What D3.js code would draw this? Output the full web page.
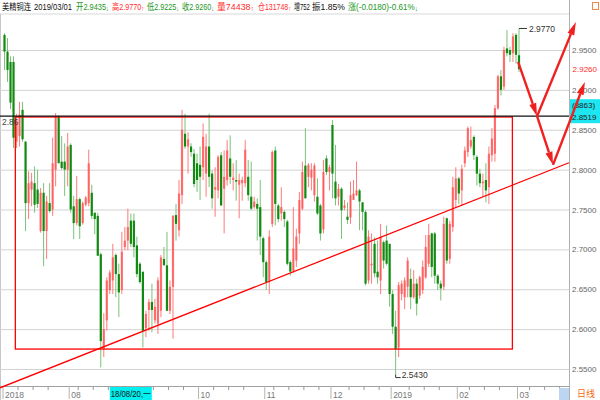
<!DOCTYPE html>
<html>
<head>
<meta charset="utf-8">
<script src="https://cdn.jsdelivr.net/npm/d3@7"></script>
<style>
body { margin: 0; background: #fff; }
svg { display: block; font-family: "Liberation Sans", Arial, "Noto Sans CJK SC", sans-serif; }
</style>
</head>
<body>
<svg id="chart" width="600" height="400"></svg>
<script>
// daily candles, 2018/07 .. 2019/03/01
const open = [
  2.969,2.948,2.935,2.935,2.835,2.842,2.875,2.835,2.758,2.775,
  2.783,2.775,2.723,2.771,2.723,2.758,2.750,2.800,2.867,2.810,
  2.810,2.800,2.831,2.754,2.733,2.763,2.733,2.756,2.758,2.771,
  2.746,2.742,2.694,2.575,2.611,2.649,2.661,2.693,2.669,2.649,
  2.703,2.711,2.736,2.736,2.705,2.682,2.672,2.601,2.624,2.634,
  2.611,2.607,2.623,2.688,2.680,2.623,2.653,2.743,2.724,2.768,
  2.845,2.829,2.829,2.820,2.808,2.806,2.803,2.795,2.829,2.795,
  2.775,2.774,2.818,2.776,2.787,2.814,2.787,2.787,2.781,2.783,
  2.783,2.791,2.766,2.753,2.757,2.753,2.714,2.684,2.659,2.732,
  2.824,2.755,2.745,2.747,2.735,2.684,2.673,2.686,2.720,2.751,
  2.805,2.791,2.790,2.768,2.766,2.755,2.725,2.814,2.797,2.856,
  2.785,2.766,2.776,2.752,2.741,2.740,2.762,2.768,2.774,2.759,
  2.747,2.661,2.680,2.707,2.672,2.661,2.709,2.711,2.707,2.644,
  2.603,2.577,2.644,2.640,2.653,2.663,2.640,2.657,2.642,2.649,
  2.665,2.682,2.720,2.720,2.667,2.657,2.653,2.739,2.688,2.728,
  2.762,2.789,2.774,2.808,2.822,2.829,2.841,2.816,2.795,2.783,
  2.787,2.778,2.818,2.820,2.877,2.917,2.904,2.952,2.950,2.946,
  2.969,2.9435
];
const high = [
  2.971,2.965,2.942,2.942,2.870,2.885,2.885,2.836,2.798,2.796,
  2.804,2.800,2.777,2.783,2.767,2.783,2.840,2.871,2.868,2.842,
  2.833,2.846,2.833,2.767,2.792,2.765,2.760,2.767,2.825,2.781,
  2.746,2.746,2.696,2.620,2.665,2.674,2.707,2.695,2.682,2.722,
  2.728,2.751,2.745,2.745,2.716,2.684,2.672,2.623,2.638,2.657,
  2.638,2.665,2.693,2.703,2.722,2.661,2.743,2.757,2.787,2.875,
  2.870,2.847,2.833,2.826,2.820,2.829,2.858,2.845,2.870,2.799,
  2.803,2.818,2.822,2.824,2.837,2.843,2.808,2.812,2.795,2.791,
  2.837,2.812,2.810,2.766,2.764,2.787,2.716,2.686,2.724,2.824,
  2.829,2.757,2.778,2.749,2.737,2.686,2.753,2.726,2.772,2.810,
  2.852,2.808,2.808,2.808,2.789,2.757,2.812,2.818,2.806,2.862,
  2.831,2.782,2.778,2.762,2.759,2.785,2.787,2.810,2.776,2.759,
  2.749,2.724,2.720,2.715,2.711,2.732,2.711,2.730,2.707,2.649,
  2.623,2.659,2.661,2.665,2.690,2.676,2.674,2.663,2.667,2.686,
  2.718,2.732,2.721,2.722,2.669,2.661,2.741,2.740,2.736,2.791,
  2.803,2.791,2.806,2.829,2.854,2.854,2.843,2.818,2.801,2.795,
  2.808,2.829,2.852,2.881,2.919,2.925,2.954,2.975,2.954,2.971,
  2.971,2.977
];
const low = [
  2.925,2.910,2.876,2.827,2.827,2.829,2.835,2.723,2.738,2.754,
  2.746,2.752,2.721,2.679,2.688,2.746,2.742,2.779,2.808,2.800,
  2.767,2.779,2.746,2.713,2.730,2.713,2.731,2.754,2.754,2.738,
  2.719,2.692,2.552,2.565,2.598,2.644,2.644,2.640,2.615,2.644,
  2.699,2.699,2.703,2.690,2.665,2.657,2.577,2.590,2.598,2.596,
  2.607,2.594,2.615,2.680,2.623,2.619,2.588,2.711,2.716,2.757,
  2.826,2.795,2.816,2.778,2.772,2.762,2.787,2.766,2.778,2.751,
  2.741,2.764,2.755,2.720,2.780,2.782,2.774,2.761,2.739,2.761,
  2.778,2.761,2.749,2.751,2.711,2.693,2.665,2.649,2.644,2.728,
  2.730,2.734,2.736,2.728,2.680,2.667,2.671,2.678,2.707,2.749,
  2.764,2.778,2.774,2.760,2.743,2.711,2.720,2.793,2.774,2.764,
  2.755,2.755,2.713,2.749,2.732,2.732,2.762,2.767,2.724,2.724,
  2.655,2.657,2.657,2.665,2.657,2.644,2.676,2.680,2.628,2.594,
  2.543,2.565,2.636,2.625,2.640,2.625,2.638,2.617,2.638,2.644,
  2.663,2.678,2.665,2.657,2.649,2.636,2.649,2.682,2.682,2.722,
  2.753,2.757,2.755,2.803,2.816,2.826,2.812,2.780,2.778,2.766,
  2.759,2.757,2.810,2.810,2.875,2.893,2.900,2.942,2.935,2.935,
  2.933,2.9225
];
const close = [
  2.948,2.925,2.884,2.840,2.860,2.869,2.838,2.758,2.783,2.785,
  2.756,2.757,2.771,2.723,2.760,2.748,2.808,2.867,2.808,2.802,
  2.800,2.829,2.750,2.733,2.763,2.729,2.758,2.765,2.808,2.742,
  2.738,2.692,2.585,2.600,2.661,2.671,2.690,2.669,2.646,2.697,
  2.711,2.728,2.707,2.703,2.669,2.659,2.598,2.619,2.634,2.624,
  2.628,2.661,2.690,2.680,2.623,2.653,2.742,2.732,2.770,2.850,
  2.829,2.838,2.822,2.782,2.787,2.791,2.841,2.829,2.791,2.764,
  2.778,2.816,2.755,2.791,2.824,2.791,2.790,2.785,2.787,2.787,
  2.825,2.768,2.751,2.760,2.751,2.716,2.684,2.659,2.716,2.822,
  2.757,2.738,2.753,2.738,2.682,2.672,2.701,2.716,2.762,2.797,
  2.764,2.806,2.800,2.805,2.745,2.720,2.797,2.797,2.803,2.795,
  2.764,2.776,2.749,2.755,2.737,2.768,2.770,2.774,2.760,2.747,
  2.657,2.716,2.682,2.670,2.665,2.716,2.686,2.682,2.644,2.603,
  2.575,2.655,2.657,2.661,2.686,2.640,2.657,2.632,2.665,2.678,
  2.703,2.718,2.678,2.667,2.657,2.651,2.732,2.686,2.732,2.778,
  2.789,2.770,2.801,2.824,2.852,2.837,2.818,2.795,2.783,2.785,
  2.774,2.820,2.839,2.877,2.917,2.900,2.950,2.946,2.944,2.967,
  2.944,2.926
];

// price axis ticks
const priceTicks = [2.55, 2.60, 2.65, 2.70, 2.75, 2.80, 2.85, 2.90, 2.95];

// month marks on the time axis (candle index where the month starts)
const monthIdx = [1, 23, 45, 66, 88, 110, 130, 152, 172];
const monthLabels = ["2018", "08", "09", "10", "11", "12", "2019", "02", "03"];

// quote line at the top
const quoteName = "美精铜连";
const quoteDate = "2019/03/01";
const quoteVolume = 74438, quoteOpenInt = 131748, quoteOiChange = 752;
const quoteAmplitude = "1.85%", quoteChange = "(-0.0180)-0.61%";

// hand drawn studies: [candle index, price]
const hLinePrice = 2.867;
const boxCorners = [[4.6, 2.866], [169.8, 2.575]];
const trendLine = [[-0.5, 2.5264], [188.6, 2.8086]];
const arrowPts = [[171.7, 2.935], [178.0, 2.867], [190.9, 2.985], [183.3, 2.806], [193.9, 2.910]];
const arrowPaths = [[0, 1], [1, 2], [1, 3], [3, 4]];

const cursorIdx = 36, cursorLabel = "18/08/20,一";
const cursorBoxText = ["(8863)", "2.8519"];

const W = 600, H = 400;
const plotRight = 569, plotTop = 14, plotBottom = 386;
const RED = "#ff2b2b", GREEN = "#1c961c";

const svg = d3.select("#chart");

const x = d3.scaleLinear().domain([1, 172]).range([4.5, 519]);
const y = d3.scaleLinear().domain([2.55, 2.95]).range([369, 50]);
const fmt = d3.format(".4f");

const candles = open.map((o, i) => ({ i: i + 1, o: o, h: high[i], l: low[i], c: close[i] }));

// frame
svg.append("line").attr("x1", 0).attr("x2", plotRight).attr("y1", plotTop).attr("y2", plotTop)
  .attr("stroke", "#d8d8d8");
svg.append("line").attr("x1", 0.5).attr("x2", 0.5).attr("y1", plotTop).attr("y2", H)
  .attr("stroke", "#c8c8c8");
svg.append("line").attr("x1", plotRight + 0.5).attr("x2", plotRight + 0.5).attr("y1", 0).attr("y2", H)
  .attr("stroke", "#b0b0b0");

// price axis + grid
const yAxis = svg.append("g")
  .attr("transform", `translate(${plotRight},0)`)
  .call(d3.axisRight(y).tickValues(priceTicks).tickSize(-plotRight).tickPadding(3).tickFormat(fmt));
yAxis.select(".domain").remove();
yAxis.selectAll(".tick line").attr("stroke", "#d2d2d2");
yAxis.selectAll(".tick text").attr("fill", "#666").attr("font-size", 8)
  .attr("font-family", "Liberation Sans, Arial, sans-serif");

// time axis
svg.append("line").attr("x1", 0).attr("x2", plotRight).attr("y1", plotBottom + 0.5).attr("y2", plotBottom + 0.5)
  .attr("stroke", "#a0a0a0");
const minorIdx = d3.range(1, 190, 5).filter(i => monthIdx.every(m => Math.abs(m - i) > 2));
svg.append("g").selectAll("line").data(minorIdx).join("line")
  .attr("x1", d => x(d) - 1.5).attr("x2", d => x(d) - 1.5)
  .attr("y1", plotBottom).attr("y2", plotBottom + 4).attr("stroke", "#999");
const cursorX0 = x(cursorIdx), cursorX1 = cursorX0 + 42;
const xAxis = svg.append("g").attr("transform", `translate(0,${plotBottom})`)
  .call(d3.axisBottom(x).tickValues(monthIdx).tickSize(13).tickPadding(0)
    .tickFormat((d, k) => (x(d) > cursorX0 - 4 && x(d) < cursorX1) ? "" : monthLabels[k]));
xAxis.select(".domain").remove();
xAxis.selectAll(".tick").attr("transform", d => `translate(${x(d) - 1.5},0)`);
xAxis.selectAll(".tick line").attr("stroke", "#b4b4b4");
xAxis.selectAll(".tick text").attr("fill", "#777").attr("font-size", 8.5)
  .attr("text-anchor", "start").attr("x", 2).attr("y", 6).attr("dy", "0.71em");

// cursor date box
svg.append("rect").attr("x", cursorX0).attr("y", plotBottom + 1).attr("width", 42).attr("height", 13)
  .attr("fill", "#00f0f0");
svg.append("text").attr("x", cursorX0 + 1).attr("y", plotBottom + 11).attr("font-size", 8.5)
  .attr("textLength", 40).attr("lengthAdjust", "spacingAndGlyphs")
  .attr("fill", "#111").text(cursorLabel);

// bottom right corner
svg.append("rect").attr("x", 559).attr("y", plotBottom + 2).attr("width", 10).attr("height", 12)
  .attr("fill", "#bcd6f2");
svg.append("text").attr("x", 577).attr("y", plotBottom + 11).attr("font-size", 9)
  .attr("fill", "#f26a10").text("日线");

// candles
const cg = svg.append("g");
cg.selectAll("line").data(candles).join("line")
  .attr("x1", d => x(d.i)).attr("x2", d => x(d.i))
  .attr("y1", d => y(d.h)).attr("y2", d => y(d.l))
  .attr("stroke", d => d.c >= d.o ? "#ff7a7a" : "#79c279").attr("stroke-width", 1);
cg.selectAll("rect").data(candles).join("rect")
  .attr("x", d => x(d.i) - 1.1).attr("width", 2.2)
  .attr("y", d => y(Math.max(d.o, d.c)))
  .attr("height", d => Math.max(1, Math.abs(y(d.o) - y(d.c))))
  .attr("fill", d => d.c >= d.o ? "#ff5050" : "#108a10")
  .attr("fill-opacity", d => d.c >= d.o ? 0.75 : 1);

// high / low markers
const hiC = candles.reduce((a, b) => b.h > a.h ? b : a);
const loC = candles.reduce((a, b) => b.l < a.l ? b : a);
svg.append("path").attr("d", `M${x(hiC.i)},${y(hiC.h)}H${x(hiC.i) + 8}`)
  .attr("stroke", "#333").attr("fill", "none");
svg.append("text").attr("x", x(hiC.i) + 10).attr("y", y(hiC.h) + 3.5).attr("font-size", 8.5)
  .attr("fill", "#333").text(fmt(hiC.h));
svg.append("path").attr("d", `M${x(loC.i)},${y(loC.l)}V${y(loC.l) + 3}H${x(loC.i) + 5}`)
  .attr("stroke", "#333").attr("fill", "none");
svg.append("text").attr("x", x(loC.i) + 6).attr("y", y(loC.l) + 3).attr("font-size", 8.5)
  .attr("fill", "#333").text(fmt(loC.l));

// last close on the price axis
const last = candles[candles.length - 1];
svg.append("text").attr("x", 597).attr("y", y(last.c) + 3).attr("font-size", 8)
  .attr("text-anchor", "end").attr("fill", RED).text(fmt(last.c));

// studies
svg.append("rect")
  .attr("x", x(boxCorners[0][0])).attr("y", y(boxCorners[0][1]))
  .attr("width", x(boxCorners[1][0]) - x(boxCorners[0][0]))
  .attr("height", y(boxCorners[1][1]) - y(boxCorners[0][1]))
  .attr("fill", "none").attr("stroke", "#f00").attr("stroke-width", 1.3);
svg.append("line").attr("x1", 0).attr("x2", plotRight)
  .attr("y1", y(hLinePrice)).attr("y2", y(hLinePrice))
  .attr("stroke", "#111").attr("stroke-width", 1.3);
svg.append("text").attr("x", 2).attr("y", y(hLinePrice) + 9).attr("font-size", 8.5)
  .attr("fill", "#444").text(d3.format(".2f")(Math.floor(hLinePrice * 100) / 100));
svg.append("line")
  .attr("x1", x(trendLine[0][0])).attr("y1", y(trendLine[0][1]))
  .attr("x2", x(trendLine[1][0])).attr("y2", y(trendLine[1][1]))
  .attr("stroke", "#f00").attr("stroke-width", 1.3);

// cursor price box on the axis
const hy = y(hLinePrice);
svg.append("rect").attr("x", plotRight + 1).attr("y", hy - 17).attr("width", W - plotRight - 1).attr("height", 24)
  .attr("fill", "#1ee6f0");
svg.selectAll(".cbt").data(cursorBoxText).join("text").attr("class", "cbt")
  .attr("x", plotRight + 3).attr("y", (d, k) => hy - 8 + k * 12).attr("font-size", 8)
  .attr("fill", "#222").text(d => d);

// arrows
const ag = svg.append("g");
arrowPaths.forEach(([a, b]) => {
  const x0 = x(arrowPts[a][0]), y0 = y(arrowPts[a][1]);
  const x1 = x(arrowPts[b][0]), y1 = y(arrowPts[b][1]);
  const ang = Math.atan2(y1 - y0, x1 - x0);
  const len = 13, hw = 3.6;
  const bx = x1 - len * Math.cos(ang), by = y1 - len * Math.sin(ang);
  ag.append("line").attr("x1", x0).attr("y1", y0).attr("x2", bx).attr("y2", by)
    .attr("stroke", "#f02020").attr("stroke-width", 2.4);
  const px = -Math.sin(ang) * hw, py = Math.cos(ang) * hw;
  ag.append("path")
    .attr("d", `M${x1},${y1}L${bx + px},${by + py}L${bx - px},${by - py}Z`)
    .attr("fill", "#f02020");
});

// quote line, each piece squeezed into the room it has in the terminal header
const quote = [
  { t: quoteName, x: 2, w: 29, c: "#111" },
  { t: quoteDate, x: 34, w: 38, c: "#111" },
  { t: "开" + fmt(last.o), a: "↓", x: 76, w: 33, c: GREEN },
  { t: "高" + fmt(last.h), a: "↑", x: 112, w: 32, c: RED },
  { t: "低" + fmt(last.l), a: "↓", x: 147, w: 32, c: GREEN },
  { t: "收" + fmt(last.c), a: "↓", x: 182, w: 32, c: GREEN },
  { t: "量" + quoteVolume, a: "↑", x: 217, w: 37, c: RED },
  { t: "仓" + quoteOpenInt, a: "↑", x: 258, w: 33, c: RED },
  { t: "增" + quoteOiChange, x: 294, w: 16, c: "#111" },
  { t: "振" + quoteAmplitude, x: 312, w: 33, c: "#111" },
  { t: "涨" + quoteChange, a: "↓", x: 348, w: 70, c: GREEN }
];
const qt = svg.append("g").selectAll("text").data(quote).join("text")
  .attr("x", 0).attr("y", 0).attr("font-size", 9).attr("fill", d => d.c);
qt.append("tspan").text(d => d.t);
qt.filter(d => d.a).append("tspan").attr("font-size", 7).attr("dy", 1).text(d => d.a);
qt.attr("transform", function (d) {
  const natural = this.getComputedTextLength();
  const sx = Math.min(1, d.w / natural);
  return `translate(${d.x},10) scale(${sx},1)`;
});

svg.append("rect").attr("x", 592.5).attr("y", 2.5).attr("width", 6).attr("height", 7)
  .attr("fill", "none").attr("stroke", "#f0884a");
</script>
</body>
</html>
